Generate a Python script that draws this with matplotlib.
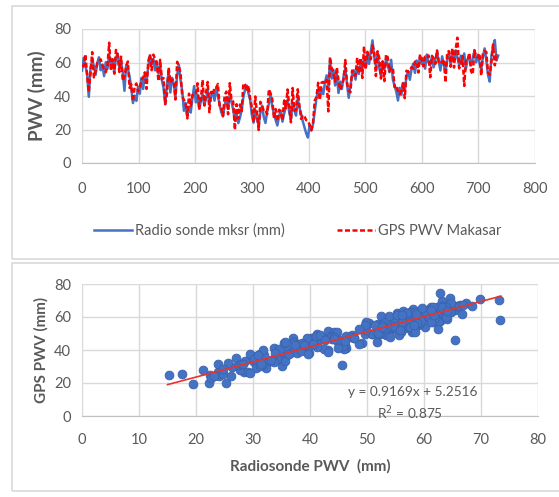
import numpy as np
import matplotlib
matplotlib.use('Agg')
import matplotlib.pyplot as plt
from matplotlib.patches import Rectangle

plt.rcParams['font.family'] = ['Lato', 'DejaVu Sans']

# dia (a cada 3 dias)
dias = np.arange(0, 736, 3)

radio = [55.2, 62.8, 58.1, 53.4, 39.5, 56.7, 61.3, 57.9, 52.6, 59.8,
         63.1, 55.4, 58.7, 51.9, 60.2, 56.3, 64.5, 58.8, 61.7, 54.2,
         62.9, 65.4, 57.1, 60.6, 53.8, 43.1, 58.4, 56.2, 51.7, 44.9,
         35.8, 40.2, 37.1, 45.6, 41.3, 50.8, 44.2, 53.6, 49.1, 57.4,
         64.2, 58.9, 62.1, 55.3, 60.7, 53.4, 57.8, 49.6, 44.8, 35.2,
         46.3, 54.7, 42.1, 50.9, 47.3, 39.8, 52.4, 58.6, 49.7, 43.1,
         31.2, 35.8, 28.4, 33.6, 30.1, 38.7, 45.9, 36.2, 40.8, 32.5,
         36.9, 41.2, 34.7, 38.3, 43.6, 35.1, 39.8, 42.4, 37.2, 44.9,
         40.1, 35.6, 30.2, 27.8, 34.5, 38.9, 32.3, 41.7, 36.4, 31.9,
         25.3, 29.7, 23.8, 27.1, 31.6, 39.4, 43.8, 46.2, 41.5, 37.8,
         28.6, 24.1, 31.7, 26.4, 22.3, 29.8, 34.2, 27.5, 23.9, 30.6,
         35.4, 41.2, 33.8, 29.1, 25.6, 22.4, 27.9, 31.3, 24.7, 29.5,
         33.6, 37.8, 30.2, 26.1, 35.7, 31.4, 28.3, 38.6, 33.1, 29.4,
         24.8, 21.3, 17.6, 15.2, 22.7, 19.4, 23.1, 30.8, 38.4, 43.7,
         39.6, 44.2, 41.1, 47.8, 52.3, 45.6, 61.2, 50.4, 55.7, 46.3,
         53.1, 41.8, 48.6, 44.2, 51.9, 56.4, 47.2, 38.9, 45.8, 52.7,
         55.3, 49.8, 57.6, 53.2, 60.4, 55.9, 63.1, 57.4, 65.8, 59.2,
         66.7, 73.2, 63.4, 58.1, 65.2, 56.8, 51.9, 60.3, 55.7, 62.1,
         58.4, 54.2, 61.6, 49.8, 46.1, 42.7, 37.3, 44.9, 40.6, 47.8,
         43.2, 51.4, 54.8, 49.7, 56.1, 59.3, 53.8, 61.2, 57.6, 63.4,
         59.1, 62.7, 56.3, 64.8, 60.2, 58.4, 63.6, 57.1, 61.9, 66.4,
         60.8, 55.2, 63.7, 58.6, 54.1, 62.3, 66.1, 59.4, 64.7, 61.2,
         67.3, 62.8, 58.7, 64.1, 60.6, 65.4, 56.2, 61.8, 63.9, 58.3,
         62.4, 66.9, 60.1, 64.6, 59.7, 55.8, 63.2, 68.4, 61.5, 52.7,
         48.6, 63.9, 69.8, 73.4, 61.2, 64.1]

gps = [58.2, 57.7, 64.9, 52.4, 42.4, 53.6, 66.2, 51.1, 55.0, 59.7,
       60.2, 61.9, 58.5, 55.9, 54.2, 58.1, 71.8, 55.1, 62.0, 53.3,
       67.5, 64.3, 54.3, 63.5, 49.0, 51.7, 57.7, 60.6, 44.9, 46.9,
       36.8, 45.5, 47.5, 42.7, 45.0, 49.6, 50.9, 54.1, 44.2, 60.7,
       64.8, 55.4, 64.7, 62.2, 59.3, 48.9, 61.6, 49.9, 50.7, 35.1,
       41.0, 57.0, 48.0, 49.8, 49.0, 37.9, 60.4, 57.8, 53.7, 39.9,
       37.6, 36.2, 26.6, 41.4, 34.0, 40.5, 40.9, 40.8, 47.6, 31.9,
       38.6, 49.6, 34.3, 41.8, 48.4, 30.3, 42.5, 40.6, 45.1, 44.9,
       47.2, 33.6, 33.0, 28.1, 40.5, 42.6, 29.1, 47.7, 37.6, 36.7,
       19.8, 35.1, 26.4, 34.9, 31.0, 47.5, 46.7, 43.0, 46.3, 37.9,
       33.3, 24.3, 39.7, 29.4, 19.7, 36.5, 34.3, 31.1, 31.5, 29.1,
       44.0, 41.6, 38.2, 26.4, 32.2, 24.9, 31.8, 30.2, 25.4, 37.3,
       32.7, 43.9, 34.3, 24.3, 44.8, 31.3, 31.5, 44.0, 33.8, 26.3,
       28.6, 27.7, 25.5, 25.0, 22.8, 19.6, 24.1, 37.2, 39.3, 47.9,
       37.6, 48.0, 48.4, 47.4, 49.6, 30.8, 63.2, 56.4, 53.9, 48.6,
       57.0, 49.2, 43.6, 46.5, 49.9, 61.5, 47.9, 43.2, 42.2, 55.2,
       52.4, 52.2, 62.9, 53.6, 62.7, 50.8, 69.6, 55.9, 66.4, 62.9,
       61.9, 70.2, 66.4, 51.9, 66.7, 62.6, 50.4, 60.7, 48.9, 64.8,
       63.0, 54.7, 56.9, 56.9, 45.3, 46.3, 43.0, 41.0, 43.4, 47.5,
       38.7, 55.1, 54.4, 55.4, 57.2, 56.3, 60.5, 60.6, 54.0, 64.8,
       61.8, 57.7, 63.5, 62.8, 64.2, 51.2, 64.0, 62.4, 59.2, 67.2,
       60.2, 61.0, 59.8, 61.9, 48.1, 66.0, 66.8, 57.5, 68.6, 57.0,
       68.3, 74.8, 56.5, 58.7, 63.9, 46.0, 61.2, 61.2, 65.8, 54.9,
       52.9, 67.4, 63.7, 63.0, 65.4, 52.2, 65.8, 66.9, 66.3, 53.9,
       52.7, 60.1, 70.7, 58.3, 64.2, 63.4]

# linha de tendencia (Excel)
slope = 0.9169
intercept = 5.2516
r2 = 0.875
trend_x = [15, 73.5]

azul = '#4472C4'
cinza = '#595959'
grade = '#D9D9D9'

fig = plt.figure(figsize=(5.59, 4.97), dpi=100)

# molduras dos dois graficos
fig.patches.append(Rectangle((12 / 559, 1 - 259 / 497), 1, (259 - 6) / 497,
                             transform=fig.transFigure, fill=False, edgecolor=grade, lw=1.2))
fig.patches.append(Rectangle((12 / 559, 1 - 491 / 497), 1, (491 - 263) / 497,
                             transform=fig.transFigure, fill=False, edgecolor=grade, lw=1.2))

def estilo(ax, pad_x):
    for s in ['top', 'right', 'left']:
        ax.spines[s].set_visible(False)
    ax.spines['bottom'].set_color('#BFBFBF')
    ax.grid(True, color=grade, lw=1)
    ax.set_axisbelow(True)
    ax.tick_params(length=0, colors=cinza, labelsize=10.5)
    ax.tick_params(axis='y', pad=8)
    ax.tick_params(axis='x', pad=pad_x)

# grafico 1 - serie temporal
ax1 = fig.add_axes([82 / 559, 1 - 163 / 497, (535 - 82) / 559, (163 - 29) / 497])
ax1.plot(dias, radio, color=azul, lw=1.8, label='Radio sonde mksr (mm)')
ax1.plot(dias, gps, color='#FF0000', lw=1.8, ls=(0, (2, 1)), label='GPS PWV Makasar')
ax1.set_xlim(0, 800)
ax1.set_ylim(0, 80)
ax1.set_xticks(range(0, 801, 100))
ax1.set_yticks(range(0, 81, 20))
ax1.set_ylabel('PWV (mm)', color=cinza, fontsize=13.5, fontweight='bold', labelpad=6)
estilo(ax1, 14)
fig.legend(loc='center', bbox_to_anchor=(298 / 559, 1 - 231 / 497), ncol=2,
           frameon=False, fontsize=10.5, labelcolor=cinza, handlelength=2.6,
           handletextpad=0.2, columnspacing=3.6)

# grafico 2 - dispersao
ax2 = fig.add_axes([82 / 559, 1 - 416 / 497, (538 - 82) / 559, (416 - 284) / 497])
ax2.scatter(radio, gps, s=40, color=azul, edgecolor='#3B63AD', lw=0.6, zorder=2)
ax2.plot(trend_x, [slope * x + intercept for x in trend_x], color='#E8342A', lw=1.2, zorder=3)
ax2.set_xlim(0, 80)
ax2.set_ylim(0, 80)
ax2.set_xticks(range(0, 81, 10))
ax2.set_yticks(range(0, 81, 20))
ax2.set_xlabel('Radiosonde PWV  (mm)', color=cinza, fontsize=11, fontweight='bold', labelpad=9)
ax2.set_ylabel('GPS PWV (mm)', color=cinza, fontsize=11, fontweight='bold')
estilo(ax2, 12)
ax2.text(58, 14.5, 'y = %.4fx + %.4f' % (slope, intercept), color=cinza,
         fontsize=9.8, ha='center', va='center')
ax2.text(57.5, 2, 'R$^2$ = %.3f' % r2, color=cinza, fontsize=9.8,
         ha='center', va='center')

fig.savefig('out.png', dpi=100)
